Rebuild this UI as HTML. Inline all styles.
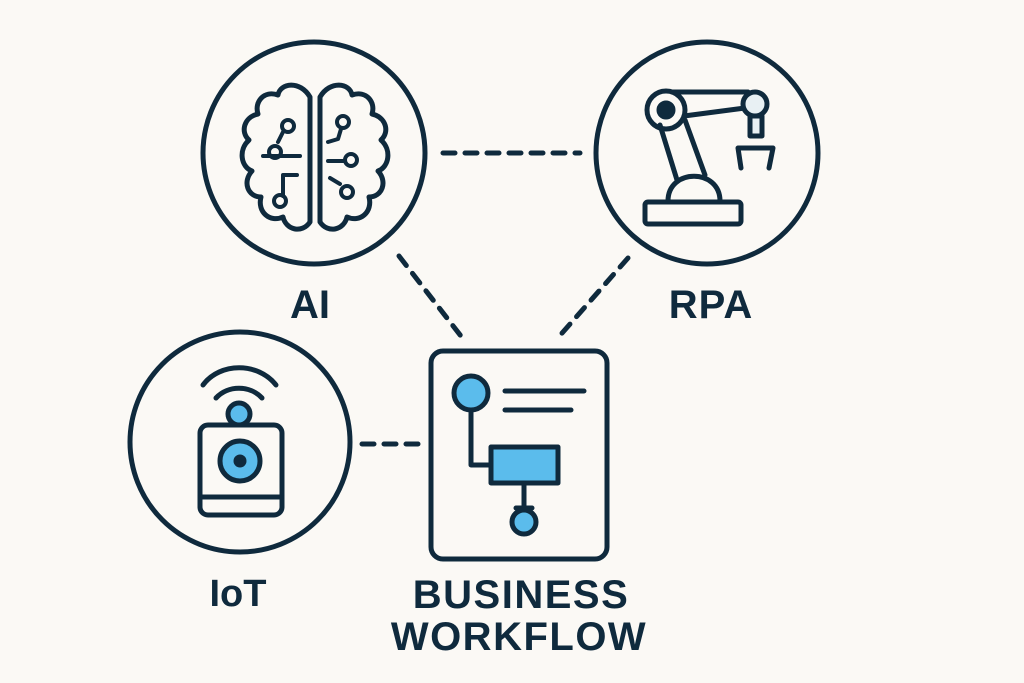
<!DOCTYPE html>
<html><head><meta charset="utf-8"><style>
html,body{margin:0;padding:0;background:#fbf9f5;}
svg{display:block}
text{font-family:"Liberation Sans",sans-serif;font-weight:bold;fill:#0f2a3d;text-anchor:middle}
</style></head><body>
<svg width="1024" height="683" viewBox="0 0 1024 683" xmlns="http://www.w3.org/2000/svg">
<rect width="1024" height="683" fill="#fbf9f5"/>
<g fill="none" stroke="#0f2a3d" stroke-width="5" stroke-linecap="round" stroke-linejoin="round">
<g stroke-dasharray="12 10">
<line x1="443" y1="153" x2="580" y2="153"/>
<line x1="399" y1="256" x2="464" y2="340"/>
<line x1="628" y1="258" x2="556" y2="340"/>
<line x1="362" y1="444" x2="420" y2="444"/>
</g>
<circle cx="314" cy="153" r="111"/>
<circle cx="707" cy="153" r="111"/>
<circle cx="240" cy="442" r="110"/>
<rect x="431" y="351" width="176" height="208" rx="12"/>
<!-- brain -->
<path d="M310 97 C300 80 280 83 278 95 C264 90 254 102 258 114 C244 117 240 132 249 140 C238 150 241 167 252 171 C242 182 248 197 261 197 C257 212 270 223 283 217 C286 230 302 234 310 222 Z"/>
<path d="M320 97 C330 80 350 83 352 95 C366 90 376 102 372 114 C386 117 390 132 381 140 C392 150 389 167 378 171 C388 182 382 197 369 197 C373 212 360 223 347 217 C344 230 328 234 320 222 Z"/>
<g stroke-width="4">
<line x1="263" y1="156" x2="300" y2="156"/>
<circle cx="275" cy="152" r="6"/>
<line x1="278" y1="142" x2="283" y2="132"/><circle cx="288" cy="126" r="6"/>
<path d="M297 175 L283 175 L283 196"/><circle cx="280" cy="201" r="6"/>
<path d="M328 142 L338 139 L341 129"/><circle cx="343" cy="122" r="6"/>
<line x1="328" y1="161" x2="345" y2="161"/><circle cx="351" cy="160" r="6"/>
<line x1="330" y1="178" x2="340" y2="184"/><circle cx="347" cy="192" r="6"/>
</g>
<!-- robot arm -->
<rect x="645" y="202" width="96" height="22" rx="3"/>
<path d="M668 201 C668 168 720 168 720 201"/>
<line x1="660" y1="125" x2="677" y2="180"/>
<line x1="685" y1="120" x2="705" y2="175"/>
<circle cx="666" cy="110" r="19"/>
<circle cx="666" cy="110" r="7" fill="#0f2a3d"/>
<line x1="672" y1="92" x2="748" y2="92"/>
<line x1="684" y1="116" x2="745" y2="108"/>
<circle cx="755" cy="104" r="12" fill="#e8f0f3"/>
<rect x="750" y="116" width="12" height="20" fill="#e8f0f3"/>
<path d="M741 168 L738 148 L773 148 L769 168"/>
<!-- IoT -->
<path d="M203 385 C220 362 258 362 276 385"/>
<path d="M216 398 C228 385 250 385 262 398"/>
<circle cx="239" cy="414" r="11" fill="#5bbcec"/>
<rect x="200" y="425" width="82" height="90" rx="8" fill="#fbf9f5"/>
<line x1="200" y1="497" x2="282" y2="497"/>
<circle cx="240" cy="461" r="20" fill="#5bbcec"/>
<circle cx="240" cy="461" r="4" fill="#0f2a3d"/>
<!-- workflow internals -->
<path d="M471 405 L471 465 L490 465"/>
<circle cx="471" cy="393" r="17" fill="#5bbcec"/>
<line x1="505" y1="391" x2="584" y2="391"/>
<line x1="505" y1="410" x2="571" y2="410"/>
<rect x="491" y="447" width="67" height="36" fill="#5bbcec"/>
<line x1="524" y1="483" x2="524" y2="508"/>
<path d="M516 508 L532 508"/>
<circle cx="524" cy="522" r="12" fill="#5bbcec"/>
</g>
<text x="310" y="318" font-size="40">AI</text>
<text x="711" y="318" font-size="40" letter-spacing="1">RPA</text>
<text x="238" y="606" font-size="38">IoT</text>
<text x="521" y="608" font-size="40" letter-spacing="1.5">BUSINESS</text>
<text x="519" y="650" font-size="40" letter-spacing="1.5">WORKFLOW</text>
</svg>
</body></html>
